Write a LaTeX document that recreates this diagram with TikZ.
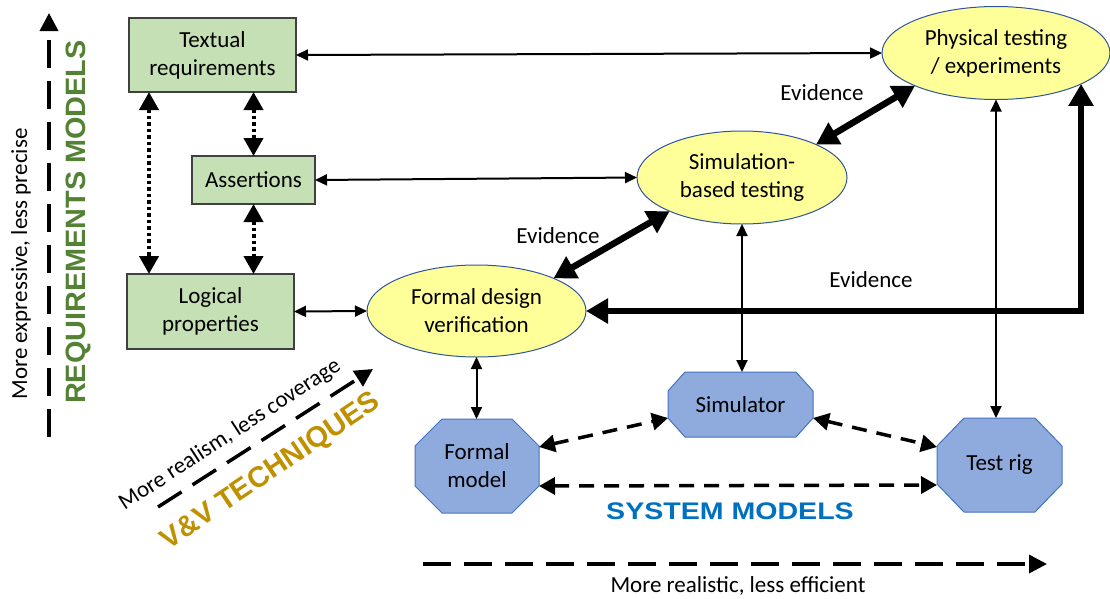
\documentclass[tikz,border=0pt]{standalone}
\usepackage{graphicx}
\usepackage{fontspec}
\setmainfont{Carlito}
\newfontfamily\heavyfont{Liberation Sans}
\usetikzlibrary{arrows.meta,shapes.geometric,backgrounds,calc}
\definecolor{boxgreen}{HTML}{C5E0B4}
\definecolor{boxedge}{HTML}{404040}
\definecolor{ellfill}{HTML}{FFFF99}
\definecolor{elledge}{HTML}{2F5597}
\definecolor{octfill}{HTML}{8FAADC}
\definecolor{octedge}{HTML}{4472C4}
\definecolor{reqgreen}{HTML}{548235}
\definecolor{vvgold}{HTML}{BF9000}
\definecolor{sysblue}{HTML}{0070C0}
\begin{document}
\begin{tikzpicture}[x=1pt,y=-1pt,
  lbl/.style={font=\fontsize{23}{28}\selectfont, align=center},
  heavy/.style={font=\heavyfont\bfseries\fontsize{#1}{#1}\selectfont},
  reqbox/.style={lbl, rectangle, draw=boxedge, fill=boxgreen, line width=1.3pt, inner sep=0pt, outer sep=0pt},
  techell/.style={lbl, ellipse, draw=elledge, fill=ellfill, line width=1pt, inner sep=0pt, outer sep=0pt},
  sysnode/.style={lbl, rectangle, inner sep=0pt, outer sep=0pt},
  octo/.style={draw=octedge, fill=octfill, line width=1pt, line join=miter},
  plainarr/.style={line width=2pt, {Triangle[length=12pt,width=11pt]}-{Triangle[length=12pt,width=11pt]}},
  dotarr/.style={line width=4pt, dash pattern=on 3.5pt off 3pt, {Triangle[length=18pt,width=19pt]}-{Triangle[length=18pt,width=19pt]}},
  evid/.style={line width=6.5pt, {Triangle[length=22pt,width=24pt]}-{Triangle[length=22pt,width=24pt]}},
  dasharr/.style={line width=3.5pt, dash pattern=on 15pt off 10pt, {Triangle[length=16pt,width=17pt]}-{Triangle[length=16pt,width=17pt]}},
  axisarr/.style={line width=3.5pt, dash pattern=on 28pt off 13pt, -{Triangle[length=18pt,width=18pt]}}
]
\useasboundingbox (0,0) rectangle (1110,598);

% requirement boxes
\node[reqbox, minimum width=167pt, minimum height=74pt] (TR) at (212.5,55) {Textual\\requirements};
\node[reqbox, minimum width=123pt, minimum height=48pt] (AS) at (253.5,180) {Assertions};
\node[reqbox, minimum width=167pt, minimum height=75pt] (LP) at (210.5,311.5) {Logical\\properties};

% technique ellipses
\node[techell, minimum width=228pt, minimum height=93pt] (PT) at (996,53) {Physical testing\\/ experiments};
\node[techell, minimum width=210pt, minimum height=93pt] (SB) at (742,177.5) {Simulation-\\based testing};
\node[techell, minimum width=219pt, minimum height=92pt] (FD) at (476.5,311) {Formal design\\verification};

% system model nodes
\node[sysnode, minimum width=124pt, minimum height=94pt] (FM) at (477,466) {Formal\\model};
\node[sysnode, minimum width=145pt, minimum height=65pt] (SM) at (740.5,404.5) {Simulator};
\node[sysnode, minimum width=125pt, minimum height=94pt] (TG) at (999.5,465) {Test rig};

\begin{scope}[on background layer]
\draw[octo] ([xshift=27pt]FM.north west) -- ([xshift=-27pt]FM.north east) -- ([yshift=-27pt]FM.north east) -- ([yshift=27pt]FM.south east) -- ([xshift=-27pt]FM.south east) -- ([xshift=27pt]FM.south west) -- ([yshift=27pt]FM.south west) -- ([yshift=-27pt]FM.north west) -- cycle;
\draw[octo] ([xshift=17pt]SM.north west) -- ([xshift=-17pt]SM.north east) -- ([yshift=-19pt]SM.north east) -- ([yshift=19pt]SM.south east) -- ([xshift=-17pt]SM.south east) -- ([xshift=17pt]SM.south west) -- ([yshift=19pt]SM.south west) -- ([yshift=-19pt]SM.north west) -- cycle;
\draw[octo] ([xshift=27pt]TG.north west) -- ([xshift=-27pt]TG.north east) -- ([yshift=-28pt]TG.north east) -- ([yshift=28pt]TG.south east) -- ([xshift=-27pt]TG.south east) -- ([xshift=27pt]TG.south west) -- ([yshift=28pt]TG.south west) -- ([yshift=-28pt]TG.north west) -- cycle;
\end{scope}

% dotted links between requirement models
\draw[dotarr] ([xshift=-63.5pt]TR.south) -- ([xshift=-61.5pt]LP.north);
\draw[dotarr] (AS.north |- TR.south) -- (AS.north);
\draw[dotarr] (AS.south) -- (AS.south |- LP.north);

% thin links
\draw[plainarr] (TR.east) -- (PT.west);
\draw[plainarr] (AS.east) -- (SB.west);
\draw[plainarr] (LP.east) -- (FD.west);
\draw[plainarr] (SB.south) -- (SB.south |- SM.north);
\draw[plainarr] (PT.south) -- (PT.south |- TG.north);
\draw[plainarr] (FD.south) -- (FD.south |- FM.north);

% evidence links
\draw[evid] (FD.23) -- (SB.205);
\draw[evid] (SB.24) -- (PT.202);
\draw[evid] (FD.east) -| (PT.-20);

% dashed links between system models
\draw[dasharr] ([yshift=19pt]FM.east) -- ([yshift=-13.5pt]SM.west);
\draw[dasharr] ([yshift=-13.5pt]SM.east) -- ([yshift=18pt]TG.west);
\draw[dasharr] ([yshift=-20pt]FM.east) -- ([yshift=-20pt]TG.west);

% axis arrows
\coordinate (ax1s) at (49,437);
\coordinate (ax1e) at (49,13);
\draw[axisarr] (ax1s) -- (ax1e);
\coordinate (ax2s) at (423,564);
\coordinate (ax2e) at (1047,564);
\draw[axisarr] (ax2s) -- (ax2e);
\coordinate (ax3s) at (158,507);
\coordinate (ax3e) at (373,369);
\draw[axisarr] (ax3s) -- (ax3e);

% labels
\node[lbl] (ev1) at (822,93) {Evidence};
\node[lbl] (ev2) at (558,236) {Evidence};
\node[lbl] (ev3) at (871,280) {Evidence};
\node[lbl, rotate=90] (axl1) at (21,264) {More expressive, less precise};
\node[heavy=28, text=reqgreen, rotate=90] (axt1) at (78,222) {\scalebox{1.03}[1]{REQUIREMENTS MODELS}};
\node[lbl] (axl2) at (738,586) {More realistic, less efficient};
\node[heavy=24, text=sysblue] (axt2) at (730,511) {\scalebox{1.19}[1]{SYSTEM MODELS}};
\node[lbl, rotate=33] (axl3) at (230,435) {More realism, less coverage};
\node[heavy=29, text=vvgold, rotate=34] (axt3) at (271,472) {V\&V TECHNIQUES};
\end{tikzpicture}
\end{document}
